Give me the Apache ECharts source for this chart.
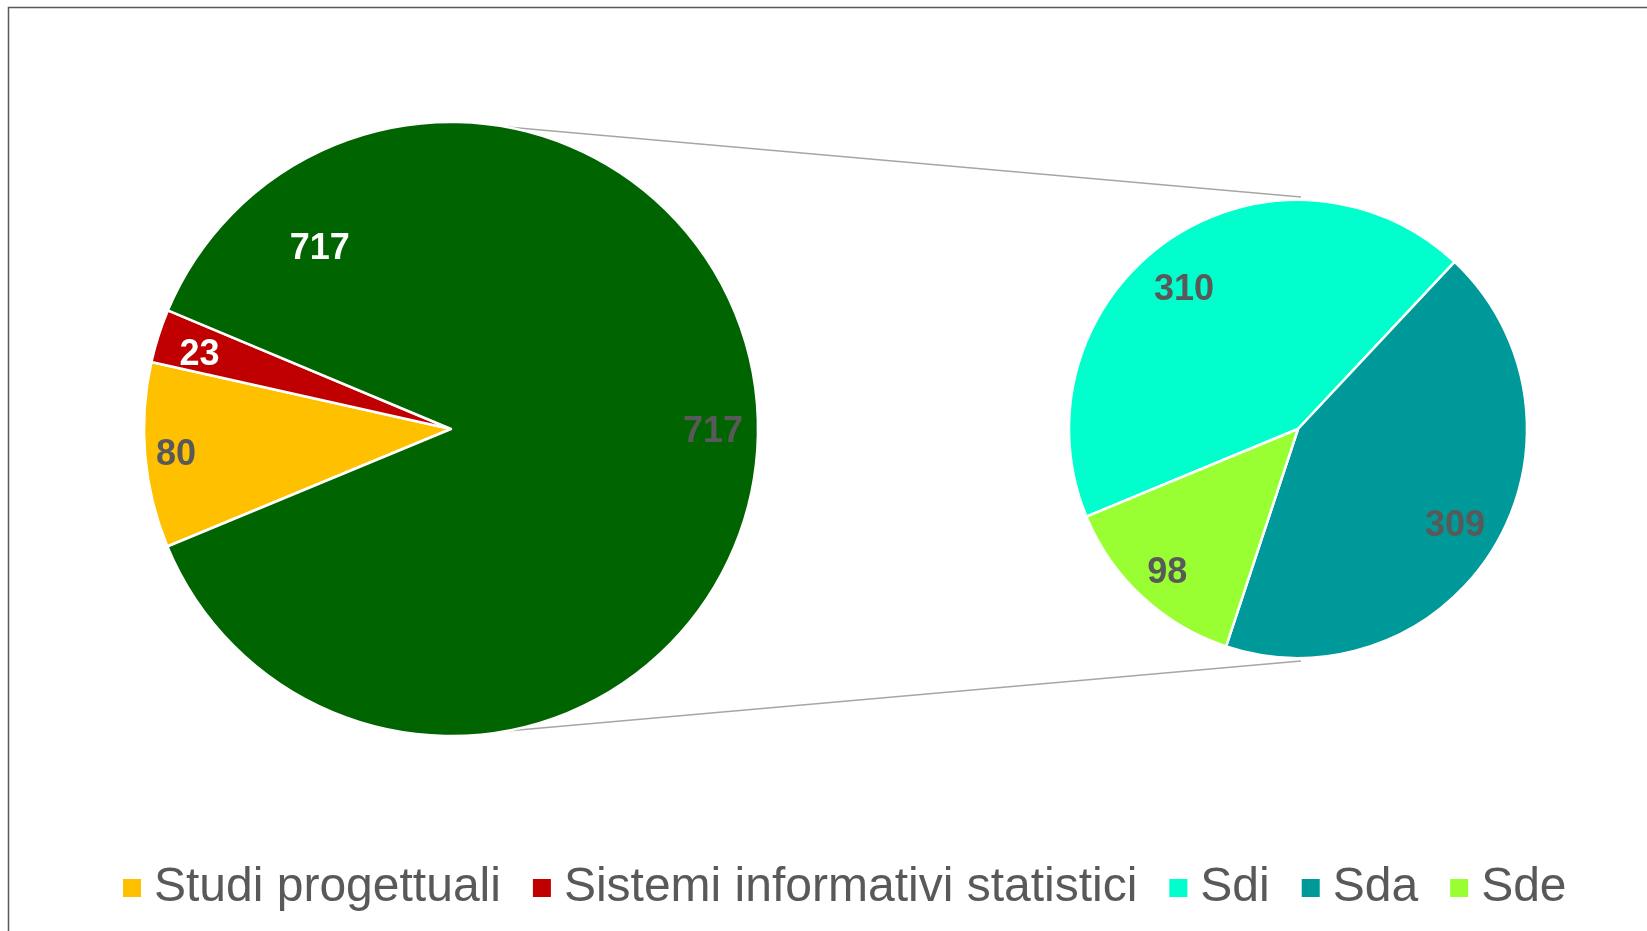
<!doctype html>
<html style="width: 100%; height: 100%"><head><meta charset="utf-8"></head>
<body style="width: 100%; height: 100%; margin: 0; background: #fff">
<div id="container" style="width: 1647px; height: 931px"></div>
<script type="text/javascript" src="https://cdn.jsdelivr.net/npm/echarts@6/dist/echarts.min.js"></script>
<script type="text/javascript">
// data
var mainNames = ['Studi progettuali', 'Sistemi informativi statistici', 'Altro'];
var mainValues = [80, 23, 717];
var subNames = ['Sdi', 'Sda', 'Sde'];
var subValues = [310, 309, 98];
var legendNames = ['Studi progettuali', 'Sistemi informativi statistici', 'Sdi', 'Sda', 'Sde'];

var mainColors = ['#FFC000', '#C00000', '#006400'];
var mainLabelColors = ['#595959', '#ffffff', '#595959'];
var subColors = ['#00FFCC', '#009999', '#99FF33'];
// small nudges so the labels sit where the original ones do
var mainLabelOffsets = [[-9, 3], [3, 7], [-5, 3]];
var subLabelOffsets = [[-8, 14], [-3, 2], [-4, 8]];

// layout
var bigC = [451, 429], bigR = 307;
var smallC = [1298, 429], smallR = 229;
var FONT = 'Liberation Sans, Arial, sans-serif';

var dom = document.getElementById('container');
var myChart = echarts.init(dom);

function items(names, values, colors) {
    return names.map(function (n, i) {
        return {name: n, value: values[i], itemStyle: {color: colors[i]}};
    });
}
function labelItems(names, values, labelColors, offsets) {
    return names.map(function (n, i) {
        return {
            name: n, value: values[i],
            itemStyle: {color: 'rgba(0,0,0,0)', borderWidth: 0},
            label: {color: labelColors[i], offset: offsets[i]}
        };
    });
}

var labelStyle = {
    show: true, position: 'inside', formatter: '{c}',
    fontFamily: FONT, fontWeight: 'bold', fontSize: 36
};

// connector lines from the big pie to the small one
function polar(c, r, deg) {
    var a = deg * Math.PI / 180;
    return [c[0] + r * Math.cos(a), c[1] - r * Math.sin(a)];
}
var p1 = polar(bigC, bigR, 80), p2 = polar(bigC, bigR, -80);
var q1 = [smallC[0] + 3, smallC[1] - smallR - 3], q2 = [smallC[0] + 3, smallC[1] + smallR + 3];
var extra = polar(bigC, bigR * 0.733, 125.7);

var option = {
    animation: false,
    legend: {
        data: legendNames,
        left: 121,
        top: 864,
        padding: 0,
        icon: 'rect',
        itemWidth: 20,
        itemHeight: 20,
        itemGap: 30,
        textStyle: {fontFamily: FONT, fontSize: 48, color: '#595959', padding: [0, 0, 0, 7]}
    },
    graphic: [
        {type: 'rect', silent: true, shape: {x: 8.5, y: 7.5, width: 1700, height: 1000},
         style: {fill: 'none', stroke: '#595959', lineWidth: 1.5}},
        {type: 'line', silent: true, shape: {x1: p1[0], y1: p1[1], x2: q1[0], y2: q1[1]},
         style: {stroke: '#a6a6a6', lineWidth: 1.5}},
        {type: 'line', silent: true, shape: {x1: p2[0], y1: p2[1], x2: q2[0], y2: q2[1]},
         style: {stroke: '#a6a6a6', lineWidth: 1.5}},
        {type: 'text', silent: true, x: extra[0], y: extra[1] + 3, z: 100,
         style: {text: String(mainValues[2]), fill: '#ffffff', font: 'bold 36px ' + FONT,
                 align: 'center', verticalAlign: 'middle'}}
    ],
    series: [
        {
            type: 'pie', center: bigC, radius: [0, bigR], startAngle: 202.5, clockwise: true,
            label: {show: false}, labelLine: {show: false},
            itemStyle: {borderColor: '#fff', borderWidth: 2.5},
            emphasis: {disabled: true},
            data: items(mainNames, mainValues, mainColors)
        },
        {
            type: 'pie', center: smallC, radius: [0, smallR], startAngle: 202.5, clockwise: true,
            label: {show: false}, labelLine: {show: false},
            itemStyle: {borderColor: '#fff', borderWidth: 2.5},
            emphasis: {disabled: true},
            data: items(subNames, subValues, subColors)
        },
        {
            type: 'pie', center: bigC, radius: [bigR * 0.72, bigR], startAngle: 202.5, silent: true,
            label: labelStyle, labelLine: {show: false},
            data: labelItems(mainNames, mainValues, mainLabelColors, mainLabelOffsets)
        },
        {
            type: 'pie', center: smallC, radius: [smallR * 0.6, smallR], startAngle: 202.5, silent: true,
            label: labelStyle, labelLine: {show: false},
            data: labelItems(subNames, subValues, ['#595959', '#595959', '#595959'], subLabelOffsets)
        }
    ]
};
myChart.setOption(option);
</script>
</body></html>
